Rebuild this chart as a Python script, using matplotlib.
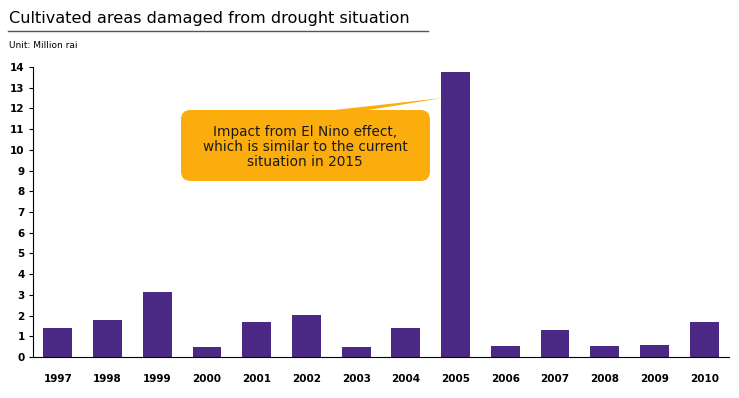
import matplotlib
matplotlib.use("Agg")
import matplotlib.pyplot as plt
from matplotlib.patches import FancyBboxPatch, Polygon
from matplotlib.lines import Line2D

years = ["1997", "1998", "1999", "2000", "2001", "2002", "2003",
         "2004", "2005", "2006", "2007", "2008", "2009", "2010"]
damaged = [1.4, 1.8, 3.15, 0.5, 1.7, 2.05, 0.5, 1.4, 13.75, 0.55, 1.3, 0.55, 0.6, 1.7]
yticks = list(range(0, 15))

W, H = 739, 398
fig = plt.figure(figsize=(W / 100, H / 100), dpi=100)
ax = fig.add_axes([33 / W, 1 - 357 / H, (729 - 33) / W, (357 - 67) / H])

x = list(range(len(years)))
ax.bar(x, damaged, width=0.58, color="#4B2A85", zorder=2)
ax.set_xlim(-0.5, len(years) - 0.5)
ax.set_ylim(0, 14)
ax.set_yticks(yticks)
ax.set_xticks(x)
ax.set_xticklabels(years, fontsize=7.5, fontweight="bold")
ax.set_yticklabels([str(t) for t in yticks], fontsize=7.5, fontweight="bold")
ax.tick_params(axis="x", length=0, pad=12)
ax.tick_params(axis="y", length=3, width=0.8, pad=3, direction="out")
for s in ["top", "right"]:
    ax.spines[s].set_visible(False)
for s in ["left", "bottom"]:
    ax.spines[s].set_color("black")
    ax.spines[s].set_linewidth(0.8)

# Title, rule and unit
fig.text(9 / W, 1 - 18 / H, "Cultivated areas damaged from drought situation",
         fontsize=11.6, va="center", ha="left", color="black")
fig.add_artist(Line2D([8 / W, 428 / W], [1 - 31 / H, 1 - 31 / H],
                      transform=fig.transFigure, color="#555555", lw=1))
fig.text(9 / W, 1 - 45 / H, "Unit: Million rai", fontsize=6.5,
         va="center", ha="left", color="black")

# Callout
col = "#FBAD0D"
tail = Polygon([[325 / W, 1 - 111 / H], [443 / W, 1 - 98 / H], [362 / W, 1 - 111 / H]],
               closed=True, transform=fig.transFigure, facecolor=col,
               edgecolor="none", zorder=5)
fig.add_artist(tail)
box = FancyBboxPatch((181 / W, 1 - 181 / H), (430 - 181) / W, (181 - 110) / H,
                     boxstyle="round,pad=0,rounding_size=0.013",
                     transform=fig.transFigure, facecolor=col, edgecolor="none",
                     zorder=5, mutation_aspect=W / H)
fig.add_artist(box)
fig.text(305 / W, 1 - 147 / H,
         "Impact from El Nino effect,\nwhich is similar to the current\nsituation in 2015",
         ha="center", va="center", fontsize=9.8, color="#1a1a1a",
         linespacing=1.1, zorder=6)

fig.savefig("out.png", dpi=100)
